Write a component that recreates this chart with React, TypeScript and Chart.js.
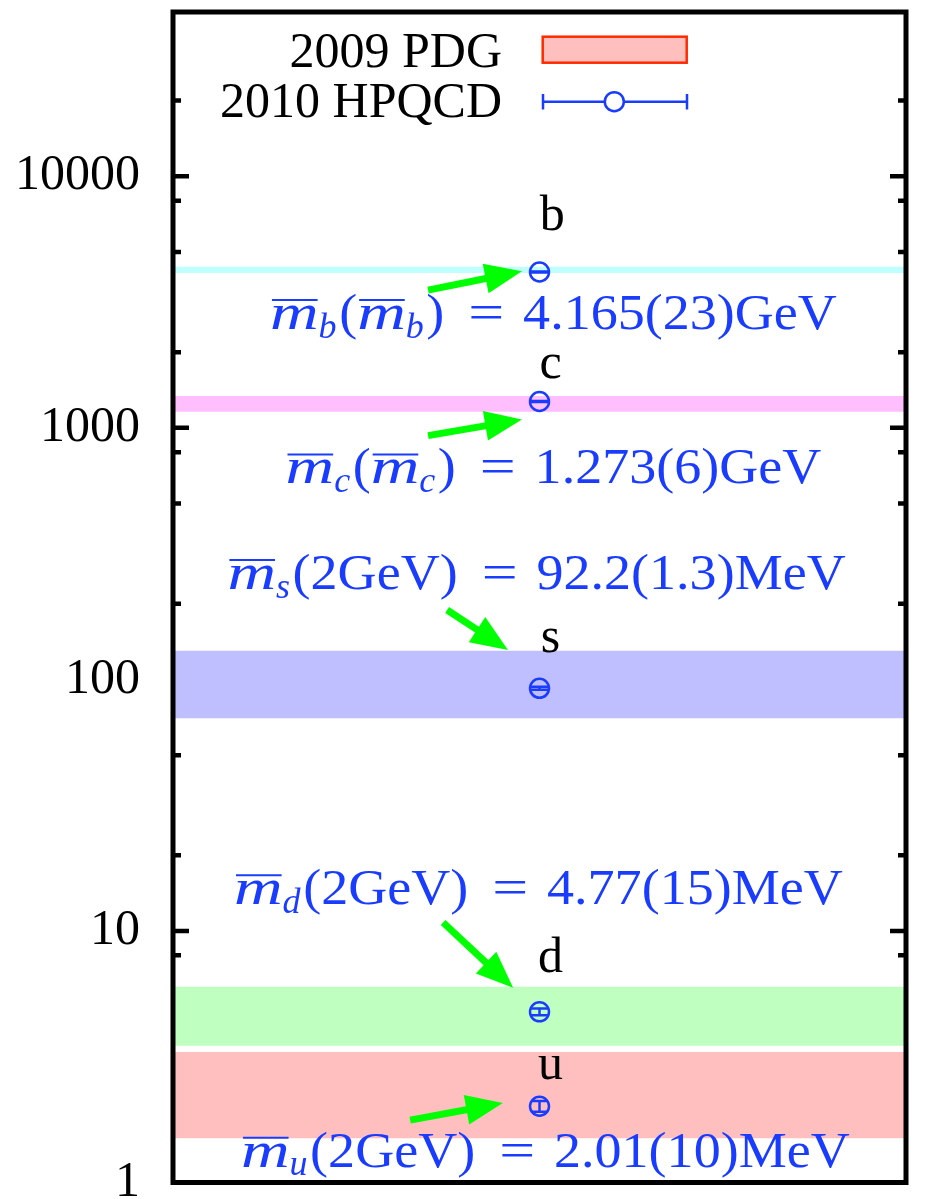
import React, { useEffect, useRef } from 'react';
import { Chart, registerables } from 'chart.js';
Chart.register(...registerables);

// ---- data ----
const quarks = ['u', 'd', 's', 'c', 'b'];
const hpqcdMass = [2.01, 4.77, 92.2, 1273, 4165]; // MeV
const hpqcdErr = [0.10, 0.15, 1.3, 6, 23];
const pdgLow = [1.5, 3.5, 70, 1160, 4130];
const pdgHigh = [3.3, 6.0, 130, 1340, 4370];
const bandColors = ['#ffbfbf', '#bfffbf', '#bfbfff', '#ffbfff', '#bfffff'];
const pointX = [1, 1, 1, 1, 1];

const labelX = [1.03, 1.03, 1.03, 1.03, 1.035];
const labelY = [2.59, 6.84, 128.6, 1580, 6111];

const formulaScale = ['2GeV', '2GeV', '2GeV', '', ''];
const formulaResult = ['2.01(10)MeV', '4.77(15)MeV', '92.2(1.3)MeV', '1.273(6)GeV', '4.165(23)GeV'];
const formulaX = [1.016, 0.997, 0.992, 1.038, 1.038];
const formulaY = [1.155, 12.76, 228.5, 601, 2470];

const arrowTailX = [0.647, 0.737, 0.748, 0.696, 0.696];
const arrowTailY = [1.77, 10.8, 188.7, 931, 3530];
const arrowTipX = [0.9, 0.928, 0.914, 0.952, 0.952];
const arrowTipY = [2.07, 5.94, 131, 1079, 4195];

const majorTicks = [1, 10, 100, 1000, 10000];
const minorFactors = [2, 5, 8];
const yMin = 1;
const yMax = 45000;
const xMin = 0;
const xMax = 2;

const legendLabels = ['2009 PDG', '2010 HPQCD'];

// ---- styles ----
const FAM = '"Liberation Serif", "Times New Roman", serif';
const BLUE = '#1a3cff';
const GREEN = '#00ff00';
const LEGEND_RED = '#ff2a00';
const FORMULA_SIZE = 51;

const tickValues: number[] = [];
majorTicks.forEach((m) => {
  tickValues.push(m);
  minorFactors.forEach((f) => {
    if (m * f <= yMax) tickValues.push(m * f);
  });
});

type Part = { t: string; it?: boolean; sub?: boolean; over?: boolean; sx?: number; padL?: number; padR?: number };

function formulaParts(i: number): Part[] {
  const q = quarks[i];
  const mBar = (): Part[] => [
    { t: 'm', it: true, over: true, sx: 1.32 },
    { t: q, it: true, sub: true, padR: 0.05 },
  ];
  const parts: Part[] = [...mBar(), { t: '(' }];
  if (formulaScale[i]) {
    parts.push({ t: formulaScale[i] });
  } else {
    parts.push(...mBar());
  }
  parts.push({ t: ')' });
  parts.push({ t: '=', sx: 1.25, padL: 0.47, padR: 0.37 });
  parts.push({ t: formulaResult[i] });
  return parts;
}

function drawFormula(ctx: CanvasRenderingContext2D, parts: Part[], cx: number, by: number, size: number) {
  const fontFor = (p: Part) => `${p.it ? 'italic ' : ''}${p.sub ? Math.round(size * 0.7) : size}px ${FAM}`;
  const sxOf = (p: Part) => (p.sx ? p.sx : p.it ? 1 : 1.06);
  const inner = parts.map((p) => {
    ctx.font = fontFor(p);
    return ctx.measureText(p.t).width * sxOf(p);
  });
  const widths = parts.map((p, k) => inner[k] + ((p.padL || 0) + (p.padR || 0)) * size);
  const total = widths.reduce((a, b) => a + b, 0);
  let x = cx - total / 2;
  ctx.fillStyle = BLUE;
  ctx.strokeStyle = BLUE;
  ctx.textAlign = 'left';
  ctx.textBaseline = 'alphabetic';
  parts.forEach((p, k) => {
    ctx.font = fontFor(p);
    const y = p.sub ? by + size * 0.17 : by;
    const x0 = x + (p.padL || 0) * size;
    ctx.save();
    ctx.translate(x0, y);
    ctx.scale(sxOf(p), 1);
    ctx.fillText(p.t, 0, 0);
    ctx.restore();
    if (p.over) {
      ctx.lineWidth = 2;
      ctx.beginPath();
      ctx.moveTo(x0 + 2, by - size * 0.57);
      ctx.lineTo(x0 + inner[k] - 1, by - size * 0.57);
      ctx.stroke();
    }
    x += widths[k];
  });
}

function drawArrow(ctx: CanvasRenderingContext2D, x0: number, y0: number, x1: number, y1: number) {
  const ang = Math.atan2(y1 - y0, x1 - x0);
  const headLen = 37;
  const headHalf = 15;
  const bx = x1 - headLen * Math.cos(ang);
  const by = y1 - headLen * Math.sin(ang);
  ctx.strokeStyle = GREEN;
  ctx.fillStyle = GREEN;
  ctx.lineWidth = 7;
  ctx.lineCap = 'butt';
  ctx.beginPath();
  ctx.moveTo(x0, y0);
  ctx.lineTo(bx + 4 * Math.cos(ang), by + 4 * Math.sin(ang));
  ctx.stroke();
  ctx.beginPath();
  ctx.moveTo(x1, y1);
  ctx.lineTo(bx - headHalf * Math.sin(ang), by + headHalf * Math.cos(ang));
  ctx.lineTo(bx + headHalf * Math.sin(ang), by - headHalf * Math.cos(ang));
  ctx.closePath();
  ctx.fill();
}

const decorPlugin = {
  id: 'decor',
  beforeDatasetsDraw(chart: any) {
    const ctx: CanvasRenderingContext2D = chart.ctx;
    const ys = chart.scales.y;
    const { left, right } = chart.chartArea;
    ctx.save();
    ctx.strokeStyle = '#000';
    ctx.lineWidth = 4.5;
    ys.ticks.forEach((t: any) => {
      const py = ys.getPixelForValue(t.value);
      const len = majorTicks.includes(t.value) ? 16 : 8;
      ctx.beginPath();
      ctx.moveTo(left, py);
      ctx.lineTo(left + len, py);
      ctx.moveTo(right, py);
      ctx.lineTo(right - len, py);
      ctx.stroke();
    });
    ctx.restore();
  },
  afterDatasetsDraw(chart: any) {
    const ctx: CanvasRenderingContext2D = chart.ctx;
    const xs = chart.scales.x;
    const ys = chart.scales.y;
    const area = chart.chartArea;
    ctx.save();
    // error bars
    ctx.strokeStyle = BLUE;
    ctx.lineWidth = 2.5;
    hpqcdMass.forEach((m, i) => {
      const px = xs.getPixelForValue(pointX[i]);
      const yLo = ys.getPixelForValue(m - hpqcdErr[i]);
      const yHi = ys.getPixelForValue(m + hpqcdErr[i]);
      ctx.beginPath();
      ctx.moveTo(px, yLo);
      ctx.lineTo(px, yHi);
      ctx.moveTo(px - 8.5, yLo);
      ctx.lineTo(px + 8.5, yLo);
      ctx.moveTo(px - 8.5, yHi);
      ctx.lineTo(px + 8.5, yHi);
      ctx.stroke();
    });
    // arrows
    quarks.forEach((q, i) => {
      drawArrow(
        ctx,
        xs.getPixelForValue(arrowTailX[i]),
        ys.getPixelForValue(arrowTailY[i]),
        xs.getPixelForValue(arrowTipX[i]),
        ys.getPixelForValue(arrowTipY[i])
      );
    });
    // quark labels
    ctx.fillStyle = '#000';
    ctx.font = `50px ${FAM}`;
    ctx.textAlign = 'center';
    ctx.textBaseline = 'alphabetic';
    quarks.forEach((q, i) => {
      ctx.fillText(q, xs.getPixelForValue(labelX[i]), ys.getPixelForValue(labelY[i]));
    });
    // formulas
    quarks.forEach((q, i) => {
      drawFormula(ctx, formulaParts(i), xs.getPixelForValue(formulaX[i]), ys.getPixelForValue(formulaY[i]), FORMULA_SIZE);
    });
    // frame
    ctx.strokeStyle = '#000';
    ctx.lineWidth = 5;
    ctx.strokeRect(area.left, area.top, area.right - area.left, area.bottom - area.top);
    // legend
    ctx.fillStyle = '#000';
    ctx.font = `50px ${FAM}`;
    ctx.textAlign = 'right';
    ctx.fillText(legendLabels[0], 502, 66.7);
    ctx.fillText(legendLabels[1], 502, 116.7);
    ctx.fillStyle = bandColors[0];
    ctx.fillRect(542.7, 36.7, 144, 26);
    ctx.strokeStyle = LEGEND_RED;
    ctx.lineWidth = 2.5;
    ctx.strokeRect(542.7, 36.7, 144, 26);
    ctx.strokeStyle = BLUE;
    ctx.lineWidth = 2.5;
    ctx.beginPath();
    ctx.moveTo(543, 101.7);
    ctx.lineTo(687, 101.7);
    ctx.moveTo(543, 94);
    ctx.lineTo(543, 109.5);
    ctx.moveTo(687, 94);
    ctx.lineTo(687, 109.5);
    ctx.stroke();
    ctx.fillStyle = '#fff';
    ctx.beginPath();
    ctx.arc(614.3, 101.7, 9.5, 0, Math.PI * 2);
    ctx.fill();
    ctx.stroke();
    ctx.restore();
  },
};

export default function App() {
  const ref = useRef<HTMLCanvasElement | null>(null);
  useEffect(() => {
    if (!ref.current) return;
    const bandSets = quarks.map((q, i) => ({
      type: 'line' as const,
      label: 'PDG ' + q,
      data: [
        { x: xMin, y: pdgHigh[i] },
        { x: xMax, y: pdgHigh[i] },
      ],
      borderWidth: 0,
      pointRadius: 0,
      backgroundColor: bandColors[i],
      fill: { value: pdgLow[i] },
      order: 2,
    }));
    const chart = new Chart(ref.current, {
      type: 'scatter',
      data: {
        datasets: [
          {
            label: '2010 HPQCD',
            data: hpqcdMass.map((m, i) => ({ x: pointX[i], y: m })),
            pointRadius: 9.5,
            pointBorderWidth: 2.5,
            pointBorderColor: BLUE,
            pointBackgroundColor: 'rgba(0,0,0,0)',
            showLine: false,
            order: 0,
          } as any,
          ...bandSets,
        ],
      },
      options: {
        responsive: false,
        animation: false,
        devicePixelRatio: 1,
        layout: { padding: { left: 0, right: 27, top: 7.5, bottom: 16.5 } },
        plugins: { legend: { display: false }, tooltip: { enabled: false } },
        scales: {
          x: { type: 'linear', min: xMin, max: xMax, display: false },
          y: {
            type: 'logarithmic',
            min: yMin,
            max: yMax,
            grid: { display: false, drawTicks: false },
            border: { display: false },
            afterBuildTicks: (scale: any) => {
              scale.ticks = tickValues.map((v) => ({ value: v }));
            },
            afterFit: (scale: any) => {
              scale.width = 173;
              scale.paddingTop = 0;
              scale.paddingBottom = 0;
            },
            ticks: {
              autoSkip: false,
              padding: 33,
              color: '#000',
              font: { family: FAM, size: 50 },
              callback: (v: any) => (majorTicks.includes(Number(v)) ? String(v) : ''),
            },
          },
        },
      },
      plugins: [decorPlugin],
    });
    return () => chart.destroy();
  }, []);
  return (
    <div style={{ position: 'absolute', left: 0, top: 0, width: 933, height: 1199, background: '#fff' }}>
      <canvas ref={ref} width={933} height={1199} />
    </div>
  );
}
